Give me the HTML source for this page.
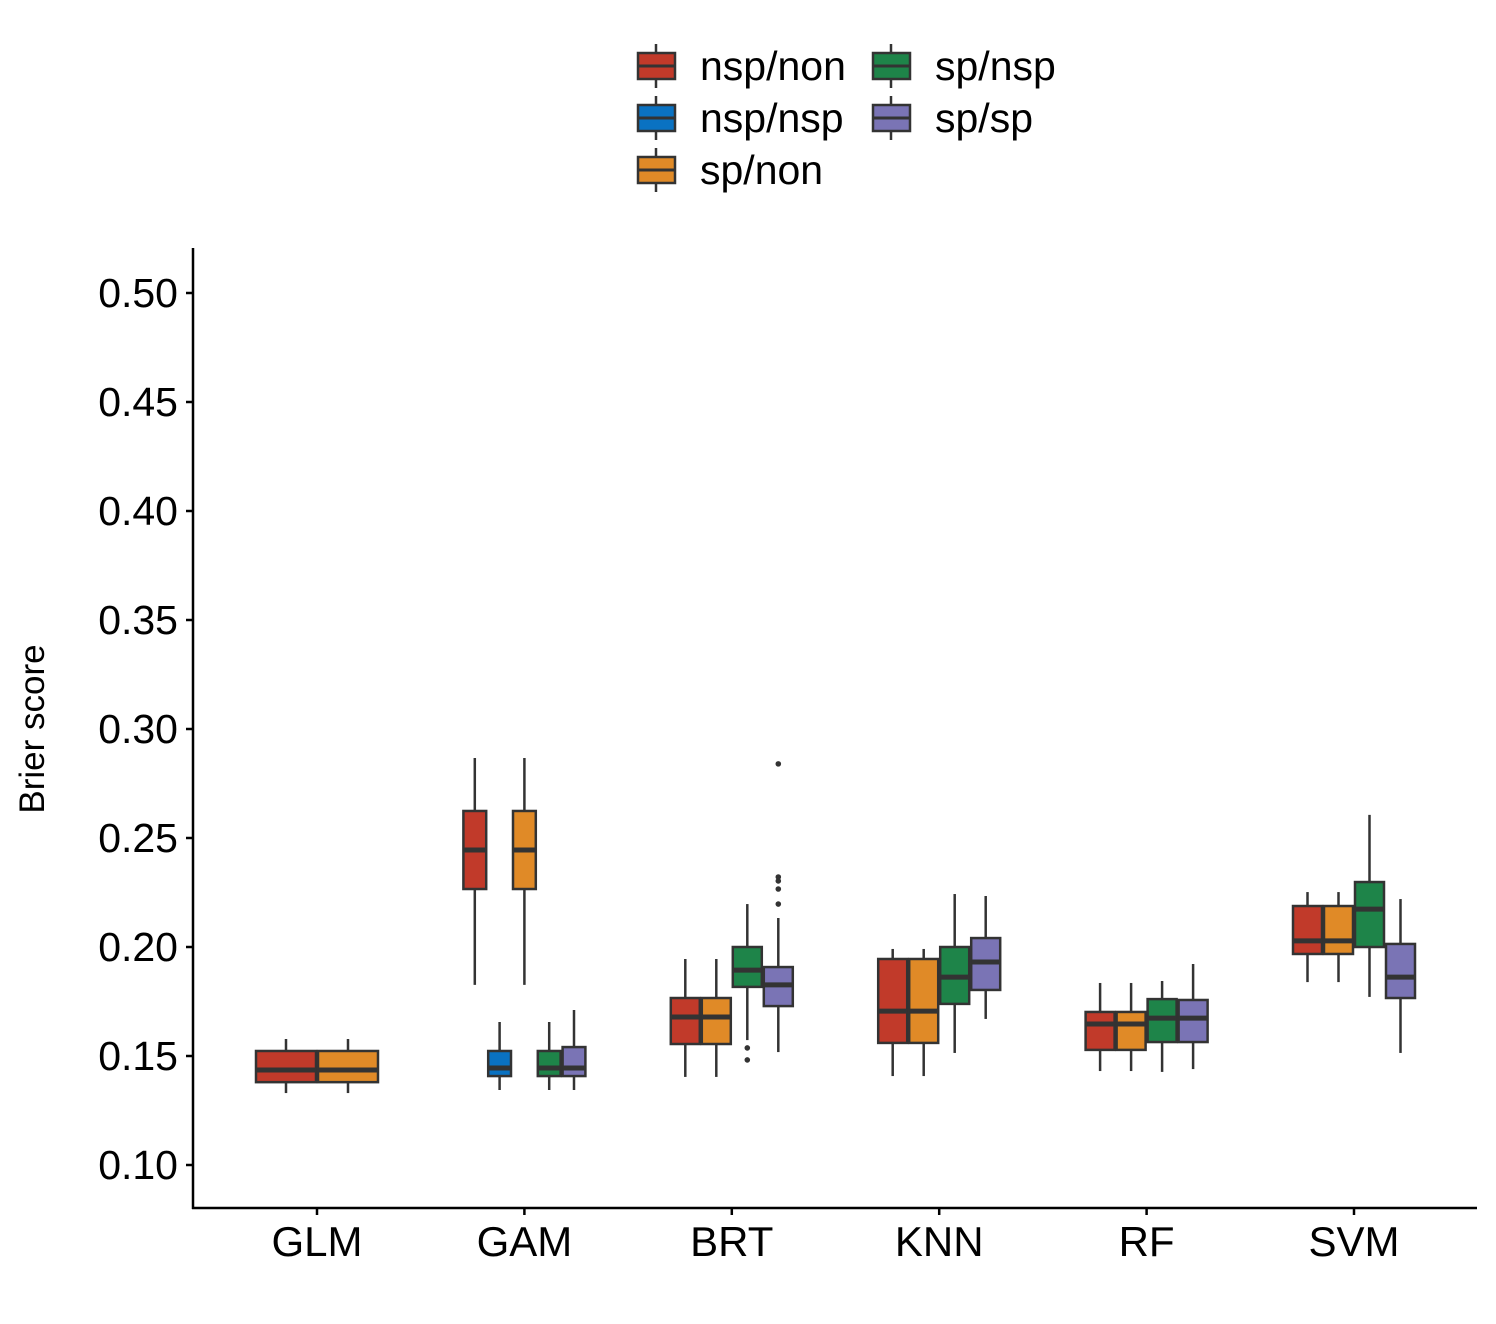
<!DOCTYPE html>
<html><head><meta charset="utf-8"><style>
body{margin:0;background:#fff;}
svg{display:block;font-family:"Liberation Sans",Arial,sans-serif;}
</style></head><body>
<svg id="chart" width="1496" height="1324">
<g id="legend"></g>
<g id="plot"></g>
<g id="axes"></g>
</svg>
<script>
const categories=["GLM","GAM","BRT","KNN","RF","SVM"];
const groups=["nsp/non","nsp/nsp","sp/non","sp/nsp","sp/sp"];
const colors={"nsp/non":"#c13a2a","nsp/nsp":"#0a72c2","sp/non":"#e08a27","sp/nsp":"#1e8449","sp/sp":"#7a74b5"};
const yTicks=[0.10,0.15,0.20,0.25,0.30,0.35,0.40,0.45,0.50];
const yTickLabels=["0.10","0.15","0.20","0.25","0.30","0.35","0.40","0.45","0.50"];
// [category, group, low, q1, median, q3, high]
const boxStats=[
["GLM","nsp/non",0.133,0.138,0.1436,0.1523,0.1578],
["GLM","sp/non",0.133,0.138,0.1436,0.1523,0.1578],
["GAM","nsp/non",0.1826,0.2266,0.2445,0.2624,0.2867],
["GAM","nsp/nsp",0.1344,0.1408,0.1445,0.1523,0.1656],
["GAM","sp/non",0.1826,0.2266,0.2445,0.2624,0.2867],
["GAM","sp/nsp",0.1344,0.1408,0.1445,0.1523,0.1656],
["GAM","sp/sp",0.1344,0.1408,0.1445,0.1541,0.1711],
["BRT","nsp/non",0.1404,0.1555,0.1679,0.1766,0.1945],
["BRT","sp/non",0.1404,0.1555,0.1679,0.1766,0.1945],
["BRT","sp/nsp",0.1573,0.1817,0.1894,0.2,0.2197],
["BRT","sp/sp",0.1518,0.1729,0.1826,0.1908,0.2133],
["KNN","nsp/non",0.1408,0.156,0.1706,0.1945,0.1991],
["KNN","sp/non",0.1408,0.156,0.1706,0.1945,0.1991],
["KNN","sp/nsp",0.1514,0.1739,0.1862,0.2,0.2243],
["KNN","sp/sp",0.167,0.1803,0.1931,0.2041,0.2234],
["RF","nsp/non",0.1431,0.1528,0.1647,0.1702,0.1835],
["RF","sp/non",0.1431,0.1528,0.1647,0.1702,0.1835],
["RF","sp/nsp",0.1427,0.1564,0.1674,0.1761,0.1844],
["RF","sp/sp",0.144,0.1564,0.1674,0.1757,0.1922],
["SVM","nsp/non",0.1839,0.1968,0.2028,0.2188,0.2252],
["SVM","sp/non",0.1839,0.1968,0.2028,0.2188,0.2252],
["SVM","sp/nsp",0.1771,0.2,0.2174,0.2298,0.2606],
["SVM","sp/sp",0.1514,0.1766,0.1862,0.2014,0.222]
];
const outliers=[
["BRT","sp/nsp",0.1537],["BRT","sp/nsp",0.1482],
["BRT","sp/sp",0.284],["BRT","sp/sp",0.2321],["BRT","sp/sp",0.2303],["BRT","sp/sp",0.2266],["BRT","sp/sp",0.2197]
];
const NS="http://www.w3.org/2000/svg";
function el(tag,attrs,parent){const e=document.createElementNS(NS,tag);for(const k in attrs)e.setAttribute(k,attrs[k]);parent.appendChild(e);return e;}
const y=v=>1165-(v-0.10)*2180;
const x=c=>317+categories.indexOf(c)*207.4;
const plot=document.getElementById('plot'),axes=document.getElementById('axes'),legend=document.getElementById('legend');
const totalW=124;
function slot(cat,grp){
  const present=groups.filter(g=>boxStats.some(b=>b[0]===cat&&b[1]===g));
  const n=present.length,w=totalW/n,i=present.indexOf(grp);
  return {cx:x(cat)-totalW/2+w*(i+0.5),w:w-2};
}
boxStats.forEach(b=>{
  const [cat,grp,lo,q1,med,q3,hi]=b;const s=slot(cat,grp);
  const g=el('g',{},plot);
  
  
  el('line',{x1:s.cx,x2:s.cx,y1:y(hi),y2:y(q3),stroke:'#333','stroke-width':2.5},g);
  el('line',{x1:s.cx,x2:s.cx,y1:y(q1),y2:y(lo),stroke:'#333','stroke-width':2.5},g);
  el('rect',{x:s.cx-s.w/2,y:y(q3),width:s.w,height:y(q1)-y(q3),fill:colors[grp],stroke:'#333','stroke-width':2.5},g);
  el('line',{x1:s.cx-s.w/2,x2:s.cx+s.w/2,y1:y(med),y2:y(med),stroke:'#333','stroke-width':5},g);
});
outliers.forEach(o=>{const s=slot(o[0],o[1]);
  const c=el('circle',{cx:s.cx,cy:y(o[2]),r:2.8,fill:'#333'},plot);
  
  
});
el('line',{x1:193,x2:193,y1:248,y2:1209,stroke:'#000','stroke-width':2.5},axes);
el('line',{x1:192,x2:1477,y1:1208,y2:1208,stroke:'#000','stroke-width':2.5},axes);
yTicks.forEach((v,i)=>{
  el('line',{x1:186,x2:193,y1:y(v),y2:y(v),stroke:'#000','stroke-width':2.5},axes);
  const t=el('text',{x:178,y:y(v)+14,'text-anchor':'end','font-size':41,fill:'#000'},axes);
  t.textContent=yTickLabels[i];
  
  
});
categories.forEach(c=>{
  el('line',{x1:x(c),x2:x(c),y1:1208,y2:1215,stroke:'#000','stroke-width':2.5},axes);
  const t=el('text',{x:x(c),y:1256,'text-anchor':'middle','font-size':42,fill:'#000'},axes);
  t.textContent=c;
  
  
});
const yt=el('text',{x:0,y:0,transform:'translate(44,729) rotate(-90)','text-anchor':'middle','font-size':35,fill:'#000'},axes);
yt.textContent='Brier score';


const legPos=[["nsp/non",637,66],["nsp/nsp",637,118],["sp/non",637,170],["sp/nsp",872,66],["sp/sp",872,118]];
legPos.forEach(p=>{
  const g=el('g',{},legend);
  
  
  const kx=p[1],ky=p[2];
  el('line',{x1:kx+19,x2:kx+19,y1:ky-22,y2:ky+22,stroke:'#333','stroke-width':2.5},g);
  el('rect',{x:kx+1,y:ky-13,width:37,height:26,fill:colors[p[0]],stroke:'#333','stroke-width':2.5},g);
  el('line',{x1:kx+1,x2:kx+38,y1:ky,y2:ky,stroke:'#333','stroke-width':3},g);
  const t=el('text',{x:kx+63,y:ky+14,'font-size':41,fill:'#000'},g);
  t.textContent=p[0];
});
</script>
</body></html>
